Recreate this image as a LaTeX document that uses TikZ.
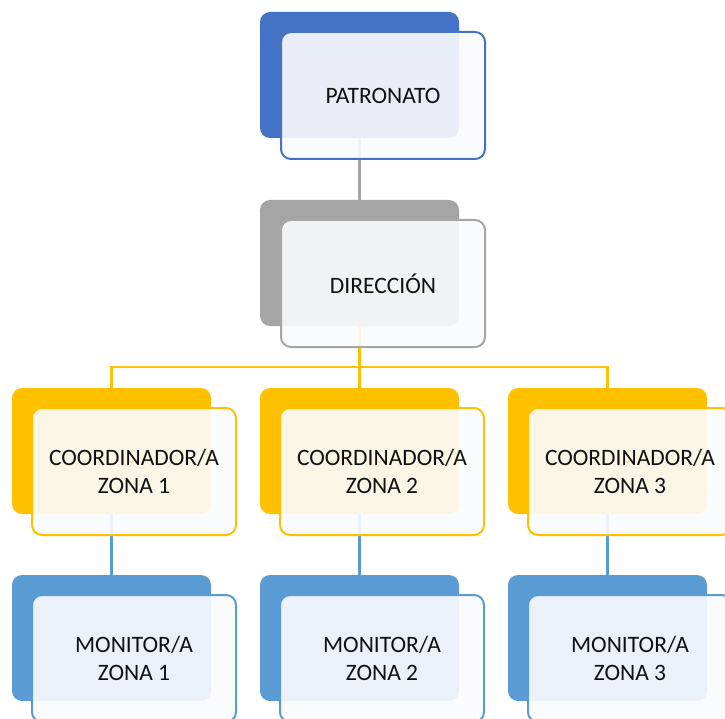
\documentclass[tikz,border=0pt]{standalone}
\usepackage{fontspec}
\setmainfont{Carlito}
\definecolor{cblue}{HTML}{4472C4}
\definecolor{cgray}{HTML}{A5A5A5}
\definecolor{cgold}{HTML}{FFC000}
\definecolor{clblue}{HTML}{5B9BD5}
\definecolor{frontfill}{HTML}{FAFBFD}
\definecolor{textc}{HTML}{111111}
\begin{document}
\begin{tikzpicture}[x=1pt,y=-1pt,
  backbox/.style={rounded corners=10pt, minimum width=199pt, minimum height=126pt,
    inner sep=0pt, outer sep=0pt, anchor=north west, draw=none, fill=#1},
  frontbox/.style={rounded corners=10pt, minimum width=204pt, minimum height=127pt,
    inner sep=0pt, outer sep=0pt, anchor=north west, draw=#1, line width=2pt,
    fill=frontfill, fill opacity=0.9, text opacity=1, align=center,
    font=\fontsize{23.5}{27.5}\selectfont, text=textc},
  link/.style={line width=2.2pt, draw=#1}]
\useasboundingbox (0,0) rectangle (725,719);
\clip (0,0) rectangle (725,719);
% back boxes
\node[backbox=cblue] (pb) at (260,12) {};
\node[backbox=cgray] (db) at (260,200) {};
\node[backbox=cgold] (c1b) at (12,388) {};
\node[backbox=cgold] (c2b) at (260,388) {};
\node[backbox=cgold] (c3b) at (508,388) {};
\node[backbox=clblue] (m1b) at (12,575) {};
\node[backbox=clblue] (m2b) at (260,575) {};
\node[backbox=clblue] (m3b) at (508,575) {};
% connectors
\coordinate (bar) at (0,367);
\draw[link=cgray] (pb.south) -- (db.north);
\draw[link=cgold] (db.south) -- (db.south |- bar);
\draw[link=cgold, line cap=rect] (c1b.north |- bar) -- (c3b.north |- bar);
\draw[link=cgold] (c1b.north |- bar) -- (c1b.north);
\draw[link=cgold] (c2b.north |- bar) -- (c2b.north);
\draw[link=cgold] (c3b.north |- bar) -- (c3b.north);
\draw[link=clblue] (c1b.south) -- (m1b.north);
\draw[link=clblue] (c2b.south) -- (m2b.north);
\draw[link=clblue] (c3b.south) -- (m3b.north);
% front boxes
\node[frontbox=cblue] (pf) at (281,32) {PATRONATO};
\node[frontbox=cgray] (df) at (281,220) {DIRECCIÓN};
\node[frontbox=cgold] (c1f) at (32,408) {COORDINADOR/A\\ZONA 1};
\node[frontbox=cgold] (c2f) at (280,408) {COORDINADOR/A\\ZONA 2};
\node[frontbox=cgold] (c3f) at (528,408) {COORDINADOR/A\\ZONA 3};
\node[frontbox=clblue] (m1f) at (32,595) {MONITOR/A\\ZONA 1};
\node[frontbox=clblue] (m2f) at (280,595) {MONITOR/A\\ZONA 2};
\node[frontbox=clblue] (m3f) at (528,595) {MONITOR/A\\ZONA 3};
\end{tikzpicture}
\end{document}
